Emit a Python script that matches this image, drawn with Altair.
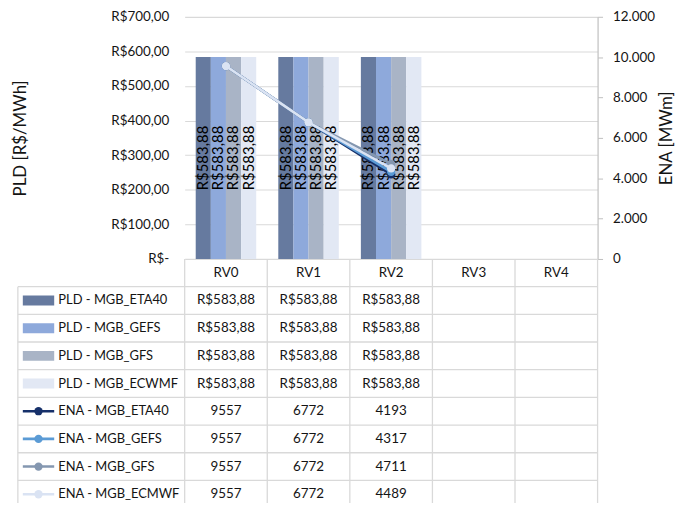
import altair as alt
import pandas as pd

# ---------------- data ----------------
categories = ["RV0", "RV1", "RV2", "RV3", "RV4"]
pld_series = ["PLD - MGB_ETA40", "PLD - MGB_GEFS", "PLD - MGB_GFS", "PLD - MGB_ECWMF"]
ena_series = ["ENA - MGB_ETA40", "ENA - MGB_GEFS", "ENA - MGB_GFS", "ENA - MGB_ECMWF"]

pld_eta40 = [583.88, 583.88, 583.88, None, None]
pld_gefs = [583.88, 583.88, 583.88, None, None]
pld_gfs = [583.88, 583.88, 583.88, None, None]
pld_ecwmf = [583.88, 583.88, 583.88, None, None]

ena_eta40 = [9557, 6772, 4193, None, None]
ena_gefs = [9557, 6772, 4317, None, None]
ena_gfs = [9557, 6772, 4711, None, None]
ena_ecmwf = [9557, 6772, 4489, None, None]

pld_colors = ["#667a9f", "#8ea9db", "#a9b4c6", "#e2e8f4"]
ena_colors = ["#16306a", "#5b9bd5", "#8497b0", "#dae3f3"]

left_ticks = [0, 100, 200, 300, 400, 500, 600, 700]
right_ticks = [0, 2000, 4000, 6000, 8000, 10000, 12000]

# ---------------- helpers ----------------
def brl(v):
    s = f"{v:,.2f}".replace(",", "X").replace(".", ",").replace("X", ".")
    return "R$" + s

pld_values = [pld_eta40, pld_gefs, pld_gfs, pld_ecwmf]
ena_values = [ena_eta40, ena_gefs, ena_gfs, ena_ecmwf]
all_series = pld_series + ena_series
all_colors = pld_colors + ena_colors

pld_rows = []
for s, vals in zip(pld_series, pld_values):
    for c, v in zip(categories, vals):
        if v is not None:
            pld_rows.append({"cat": c, "series": s, "value": v, "label": brl(v)})
pld_df = pd.DataFrame(pld_rows)

ena_rows = []
for k, (s, vals) in enumerate(zip(ena_series, ena_values)):
    for c, v in zip(categories, vals):
        if v is not None:
            ena_rows.append({"cat": c, "series": s, "value": v, "k": k})
ena_df = pd.DataFrame(ena_rows)

FONT = "Lato"
TXT = "#141414"
GRID = "#d9d9d9"

color_scale = alt.Scale(domain=all_series, range=all_colors)
x_band = alt.X("cat:N", scale=alt.Scale(domain=categories, paddingInner=0, paddingOuter=0), axis=None)
pld_y_scale = alt.Scale(domain=[0, 700], nice=False, zero=True)
ena_y_scale = alt.Scale(domain=[0, 12000], nice=False, zero=True)
xoff = alt.XOffset("series:N", scale=alt.Scale(domain=pld_series, paddingInner=0, paddingOuter=0.73))

left_axis = alt.Axis(
    title="PLD [R$/MWh]", values=left_ticks,
    labelExpr="datum.value == 0 ? 'R$-\u00a0\u00a0' : 'R$' + replace(format(datum.value, '.2f'), '.', ',')",
    ticks=False, domain=False, grid=True, gridColor=GRID, gridWidth=1.2,
    labelPadding=16, labelFont=FONT, labelFontSize=13.5, labelColor=TXT,
    titleFont=FONT, titleFontSize=17, titleFontWeight="normal", titleColor=TXT,
    titlePadding=82,
)
right_axis = alt.Axis(
    orient="right", title="ENA [MWm]", values=right_ticks,
    labelExpr="replace(format(datum.value, ','), ',', '.')",
    ticks=True, tickSize=5, tickColor="#bfbfbf", domain=True, domainColor="#bfbfbf",
    domainWidth=1.2, grid=False, labelPadding=10, labelFont=FONT, labelFontSize=13.5,
    labelColor=TXT, titleFont=FONT, titleFontSize=17, titleFontWeight="normal",
    titleColor=TXT, titleAngle=270, titleBaseline="top", titlePadding=4,
)

bars = alt.Chart(pld_df).mark_bar().encode(
    x=x_band,
    xOffset=xoff,
    y=alt.Y("value:Q", scale=pld_y_scale, axis=left_axis),
    color=alt.Color("series:N", scale=color_scale, legend=None),
)
bar_labels = alt.Chart(pld_df).transform_calculate(mid="datum.value / 2").mark_text(
    angle=270, font=FONT, fontSize=15, color="#000000"
).encode(
    x=x_band,
    xOffset=xoff,
    y=alt.Y("mid:Q", scale=pld_y_scale, axis=left_axis),
    text="label:N",
)
pld_layer = alt.layer(bars, bar_labels)

line_layers = []
for s in ena_series:
    base = alt.Chart(ena_df).transform_filter(alt.datum.series == s)
    ln = base.mark_line(strokeWidth=2.6).encode(
        x=x_band,
        y=alt.Y("value:Q", scale=ena_y_scale, axis=right_axis),
        color=alt.Color("series:N", scale=color_scale, legend=None),
    )
    pt = base.mark_circle(size=70, opacity=1).encode(
        x=x_band,
        y=alt.Y("value:Q", scale=ena_y_scale, axis=right_axis),
        color=alt.Color("series:N", scale=color_scale, legend=None),
    )
    line_layers += [ln, pt]
ena_layer = alt.layer(*line_layers)

main = alt.layer(pld_layer, ena_layer).resolve_scale(y="independent")

# ---------------- data table under the plot ----------------
n_rows = len(all_series) + 1          # header + series rows
LEG_LEFT = -2.02                       # legend column left edge, in column units
SW_L, SW_R, SW_C, LEG_TXT = -1.96, -1.58, -1.77, -1.53
tx_scale = alt.Scale(domain=[0, len(categories)], range=[0, 416], zero=False, nice=False)
ty_scale = alt.Scale(domain=[0, n_rows], range=[244, 495], zero=False, nice=False)

cells = []
for j, c in enumerate(categories):
    cells.append({"xc": j + 0.5, "yc": 0.5, "t": c})
for i, vals in enumerate(pld_values):
    for j, v in enumerate(vals):
        if v is not None:
            cells.append({"xc": j + 0.5, "yc": i + 1.5, "t": brl(v)})
for i, vals in enumerate(ena_values):
    for j, v in enumerate(vals):
        if v is not None:
            cells.append({"xc": j + 0.5, "yc": len(pld_values) + i + 1.5, "t": str(v)})
cells_df = pd.DataFrame(cells)

hrules_df = pd.DataFrame([{"y": b, "x1": LEG_LEFT, "x2": len(categories)} for b in range(1, n_rows + 1)])
vr = [{"x": c, "y1": 0, "y2": n_rows} for c in range(0, len(categories) + 1)]
vr.append({"x": LEG_LEFT, "y1": 1, "y2": n_rows})
vrules_df = pd.DataFrame(vr)

leg_df = pd.DataFrame([
    {"series": s, "yc": i + 1.5, "kind": "bar" if i < len(pld_series) else "line",
     "xl": SW_L, "xr": SW_R, "xm": SW_C, "xt": LEG_TXT,
     "yt": i + 1.5 - 0.18, "yb": i + 1.5 + 0.18}
    for i, s in enumerate(all_series)
])

tX = lambda f: alt.X(f, scale=tx_scale, axis=None)
tY = lambda f: alt.Y(f, scale=ty_scale, axis=None)

hrules = alt.Chart(hrules_df).mark_rule(color=GRID, strokeWidth=1.3).encode(
    x=tX("x1:Q"), x2="x2:Q", y=tY("y:Q"))
vrules = alt.Chart(vrules_df).mark_rule(color=GRID, strokeWidth=1.3).encode(
    x=tX("x:Q"), y=tY("y1:Q"), y2="y2:Q")
cell_text = alt.Chart(cells_df).mark_text(font=FONT, fontSize=13.5, color=TXT).encode(
    x=tX("xc:Q"), y=tY("yc:Q"), text="t:N")
sw_rect = alt.Chart(leg_df).transform_filter(alt.datum.kind == "bar").mark_rect().encode(
    x=tX("xl:Q"), x2="xr:Q", y=tY("yt:Q"), y2="yb:Q",
    color=alt.Color("series:N", scale=color_scale, legend=None))
sw_line = alt.Chart(leg_df).transform_filter(alt.datum.kind == "line").mark_rule(strokeWidth=2.6).encode(
    x=tX("xl:Q"), x2="xr:Q", y=tY("yc:Q"),
    color=alt.Color("series:N", scale=color_scale, legend=None))
sw_pt = alt.Chart(leg_df).transform_filter(alt.datum.kind == "line").mark_circle(size=70, opacity=1).encode(
    x=tX("xm:Q"), y=tY("yc:Q"),
    color=alt.Color("series:N", scale=color_scale, legend=None))
leg_text = alt.Chart(leg_df).mark_text(font=FONT, fontSize=13, color=TXT, align="left").encode(
    x=tX("xt:Q"), y=tY("yc:Q"), text="series:N")

table = alt.layer(hrules, vrules, sw_rect, sw_line, sw_pt, leg_text, cell_text)

chart = alt.layer(main, table).resolve_scale(x="independent", y="independent").properties(
    width=416, height=244,
    padding={"left": 3, "top": 0, "right": 0, "bottom": -8},
).configure_view(stroke=None)

chart.save("out.html", embed_options={"renderer": "svg", "actions": False})
